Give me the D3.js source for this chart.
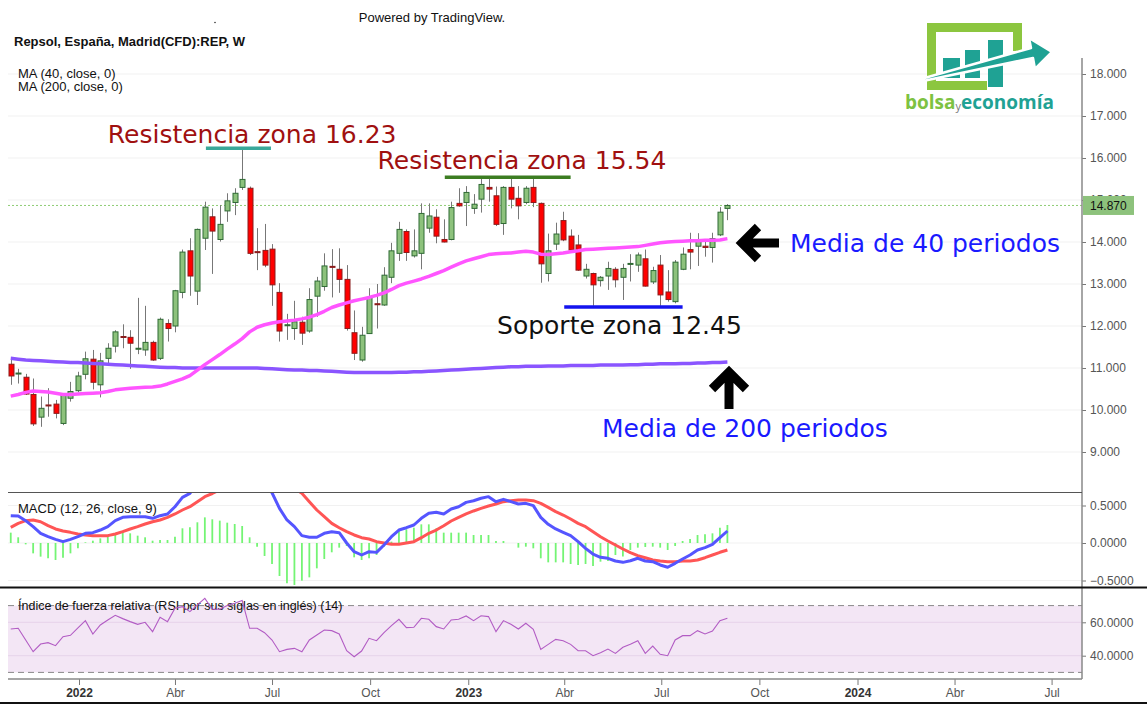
<!DOCTYPE html>
<html>
<head>
<meta charset="utf-8">
<script src="https://cdn.jsdelivr.net/npm/d3@7"></script>
<style>
  html, body { margin: 0; padding: 0; background: #ffffff; }
  svg { display: block; }
</style>
</head>
<body>
<script>
// ---------------- DATA ----------------
const firstWeek = "2021-10-29";
const openP = [11.09,10.86,10.78,10.37,9.83,10.12,10.14,9.68,10.28,10.46,10.85,11.21,10.60,11.23,11.52,11.75,11.73,11.45,11.43,11.61,
  11.23,12.06,12.00,12.80,13.79,12.83,14.09,14.60,14.06,14.74,14.94,15.30,15.28,13.77,13.80,13.83,12.80,12.01,11.94,12.09,
  11.88,12.71,12.94,13.42,13.35,13.11,11.84,11.19,11.82,12.53,12.50,13.16,13.73,14.25,13.67,13.73,14.33,14.59,14.06,14.06,
  14.92,14.94,14.80,15.02,15.30,15.10,14.44,15.30,15.04,14.94,15.30,14.92,13.25,13.95,14.51,14.14,13.93,13.19,13.25,13.08,
  13.19,13.35,13.16,13.47,13.45,13.60,13.05,13.45,12.81,12.58,13.35,13.82,13.90,13.90,13.87,14.17,14.80];
const highP = [11.21,10.98,10.86,10.75,10.32,10.52,10.24,10.40,10.67,10.91,11.39,11.43,11.36,11.59,11.90,12.04,11.90,12.67,12.48,11.65,
  12.20,12.16,12.86,13.82,14.09,14.32,14.96,14.80,14.88,15.16,15.28,16.23,15.32,14.33,14.43,13.95,13.02,12.29,12.60,12.22,
  12.90,13.17,13.73,13.83,13.85,13.45,12.37,11.98,12.90,13.00,13.40,13.98,14.48,14.30,14.30,14.92,14.92,14.78,14.54,14.96,
  15.28,15.33,15.14,15.52,15.54,15.32,15.33,15.54,15.33,15.33,15.54,14.94,14.20,14.46,14.72,14.30,14.17,13.48,13.27,13.19,
  13.53,13.40,13.48,13.71,13.75,13.82,13.41,13.69,13.33,13.57,13.87,14.22,14.21,14.05,14.22,14.83,14.90];
const lowP = [10.60,10.63,10.36,9.62,9.60,9.84,9.80,9.64,10.20,10.42,10.73,10.49,10.30,11.10,11.37,11.47,10.98,11.33,11.29,11.17,
  11.19,11.63,11.85,12.66,12.72,12.50,13.81,13.24,14.01,14.48,14.64,15.24,13.69,13.33,13.40,12.48,11.63,11.67,11.67,11.55,
  11.84,12.22,12.84,12.68,12.79,11.89,11.19,11.15,11.81,11.94,12.48,13.02,13.55,13.55,13.63,13.35,14.22,13.97,13.99,14.04,
  14.84,14.38,14.67,14.70,14.96,14.38,14.17,14.80,14.54,14.90,14.83,13.03,13.06,13.81,14.02,13.75,13.31,13.13,12.48,12.94,
  12.86,12.92,12.62,13.06,13.29,12.94,13.00,12.48,12.58,12.54,13.33,13.35,13.43,13.65,13.51,14.14,14.52];
const closeP = [10.81,10.88,10.38,9.67,10.04,10.10,9.92,10.37,10.44,10.81,11.22,10.66,11.17,11.47,11.86,11.73,11.59,11.47,11.61,11.19,
  12.16,11.94,12.84,13.76,13.19,14.30,14.83,14.26,14.42,14.98,15.16,15.49,13.73,13.75,13.45,12.98,11.88,12.03,12.10,11.83,
  12.63,13.07,13.43,13.40,13.11,11.94,11.35,11.78,12.68,12.51,13.21,13.79,14.30,13.75,13.79,14.68,14.62,14.14,14.00,14.82,
  14.86,15.18,14.90,15.37,15.26,14.42,15.30,15.02,14.86,15.28,14.94,13.48,13.79,14.19,14.05,13.81,13.33,13.35,12.98,13.16,
  13.37,13.10,13.37,13.49,13.69,12.95,13.32,12.74,12.63,13.52,13.71,13.76,14.05,13.87,14.08,14.71,14.87];
const ma40 = [10.33,10.37,10.42,10.45,10.44,10.43,10.40,10.37,10.37,10.38,10.39,10.40,10.41,10.44,10.48,10.50,10.52,10.53,10.54,10.55,
  10.57,10.62,10.68,10.74,10.82,10.95,11.08,11.20,11.32,11.45,11.57,11.70,11.86,11.97,12.03,12.07,12.10,12.12,12.14,12.17,
  12.21,12.27,12.35,12.44,12.50,12.55,12.60,12.64,12.68,12.73,12.79,12.87,12.96,13.02,13.07,13.12,13.18,13.25,13.32,13.40,
  13.48,13.55,13.60,13.65,13.70,13.72,13.73,13.74,13.76,13.78,13.76,13.71,13.70,13.72,13.74,13.77,13.79,13.82,13.83,13.84,
  13.85,13.86,13.87,13.88,13.89,13.92,13.95,13.98,14.00,14.01,14.02,14.03,14.03,14.04,14.04,14.05,14.08];
const ma200 = [11.23,11.21,11.19,11.18,11.17,11.16,11.15,11.14,11.13,11.13,11.12,11.11,11.10,11.09,11.08,11.07,11.06,11.05,11.04,11.03,
  11.02,11.01,11.01,11.00,11.00,11.00,11.00,11.00,11.00,11.00,11.00,11.00,11.00,11.00,10.99,10.98,10.97,10.96,10.95,10.95,
  10.94,10.94,10.93,10.92,10.91,10.90,10.89,10.89,10.89,10.89,10.89,10.89,10.90,10.90,10.91,10.91,10.92,10.93,10.94,10.95,
  10.96,10.97,10.98,10.99,11.00,11.01,11.02,11.03,11.03,11.04,11.04,11.04,11.05,11.05,11.05,11.06,11.06,11.06,11.06,11.07,
  11.07,11.07,11.07,11.08,11.08,11.09,11.09,11.10,11.10,11.10,11.11,11.11,11.12,11.12,11.13,11.13,11.14];
const macdLine = [0.364,0.36,0.298,0.218,0.129,0.084,0.049,0.018,0.049,0.084,0.129,0.138,0.173,0.218,0.298,0.342,0.351,0.351,0.351,0.329,
  0.364,0.387,0.484,0.609,0.662,0.80,0.97,1.08,1.14,1.20,1.24,1.25,1.08,0.93,0.80,0.67,0.462,0.307,0.218,0.098,
  0.076,0.076,0.129,0.151,0.138,0.0,-0.116,-0.16,-0.116,-0.125,-0.027,0.084,0.173,0.204,0.24,0.329,0.396,0.409,0.387,0.453,
  0.484,0.542,0.564,0.596,0.618,0.551,0.582,0.551,0.52,0.529,0.498,0.342,0.249,0.187,0.142,0.098,0.018,-0.071,-0.147,-0.191,
  -0.204,-0.24,-0.258,-0.236,-0.204,-0.24,-0.249,-0.293,-0.324,-0.271,-0.213,-0.16,-0.093,-0.062,-0.018,0.071,0.16];
const signalLine = [0.209,0.262,0.298,0.307,0.284,0.231,0.187,0.16,0.142,0.12,0.107,0.098,0.098,0.098,0.12,0.151,0.187,0.218,0.253,0.284,
  0.307,0.342,0.387,0.44,0.484,0.551,0.618,0.66,0.71,0.78,0.85,0.92,0.97,0.98,0.96,0.92,0.86,0.80,0.73,0.662,
  0.551,0.44,0.351,0.262,0.204,0.151,0.107,0.071,0.053,0.018,0.0,-0.018,-0.018,0.0,0.018,0.071,0.129,0.173,0.231,0.293,
  0.342,0.387,0.427,0.462,0.493,0.52,0.551,0.564,0.573,0.573,0.564,0.529,0.475,0.418,0.373,0.32,0.262,0.218,0.151,0.084,
  0.027,-0.027,-0.08,-0.129,-0.169,-0.196,-0.227,-0.24,-0.249,-0.249,-0.24,-0.24,-0.227,-0.196,-0.16,-0.124,-0.093];
const histo = [0.138,0.076,-0.018,-0.138,-0.182,-0.204,-0.227,-0.196,-0.138,-0.071,0.009,0.031,0.062,0.093,0.116,0.151,0.129,0.098,0.076,0.031,
  0.040,0.040,0.084,0.196,0.209,0.276,0.342,0.316,0.298,0.271,0.253,0.227,0.076,-0.049,-0.173,-0.280,-0.440,-0.538,-0.560,-0.502,
  -0.458,-0.338,-0.213,-0.124,-0.062,-0.040,-0.191,-0.227,-0.204,-0.16,-0.049,0.018,0.16,0.182,0.204,0.249,0.249,0.196,0.138,0.138,
  0.138,0.138,0.107,0.107,0.107,0.027,0.027,0.0,-0.062,-0.049,-0.071,-0.204,-0.258,-0.258,-0.258,-0.280,-0.293,-0.280,-0.307,-0.249,
  -0.24,-0.16,-0.18,-0.093,-0.062,-0.053,-0.049,-0.062,-0.093,-0.04,0.027,0.053,0.107,0.116,0.129,0.204,0.24];
const rsi = [56.0,56.4,49.4,42.4,47.0,47.8,46.0,51.4,52.2,56.6,61.0,53.0,58.4,61.4,64.2,62.2,60.4,58.8,60.0,54.4,
  63.0,60.4,68.4,69.4,66.4,70.4,74.3,67.8,67.8,70.0,71.4,73.0,56.4,56.4,53.8,49.4,42.4,43.8,44.4,42.4,
  49.4,52.4,55.4,55.0,53.0,43.0,39.4,42.8,50.4,49.0,53.8,58.0,61.8,56.8,57.0,62.4,61.8,57.4,56.0,61.4,
  61.8,63.8,61.0,63.9,63.4,54.4,61.0,58.8,56.0,59.4,55.8,43.8,46.8,49.8,49.0,46.8,43.0,43.0,40.0,41.8,
  44.0,41.4,45.0,46.8,49.0,41.4,45.8,40.8,40.0,49.4,52.0,52.0,55.0,53.0,54.8,61.0,62.4];
const lastPrice = 14.87;
const priceTicks = [9,10,11,12,13,14,15,16,17,18];
const macdTicks = [-0.5,0,0.5];
const rsiTicks = [40,60];
const rsiBand = [30,70];
const xTickDates = ["2022-01-01","2022-04-01","2022-07-01","2022-10-01","2023-01-01","2023-04-01","2023-07-01","2023-10-01","2024-01-01","2024-04-01","2024-07-01"];
const xTickLabels = ["2022","Abr","Jul","Oct","2023","Abr","Jul","Oct","2024","Abr","Jul"];
const levels = [
  {value:16.23, from:"2022-04-30", to:"2022-06-30", color:"#3aa89a", label:"Resistencia zona 16.23", lx:"2022-01-28", ly:16.36, lcolor:"#a01010"},
  {value:15.54, from:"2022-12-10", to:"2023-04-07", color:"#3c7d22", label:"Resistencia zona 15.54", lx:"2022-10-08", ly:15.74, lcolor:"#a01010"},
  {value:12.45, from:"2023-04-01", to:"2023-07-21", color:"#1414ee", label:"Soporte zona 12.45", lx:"2023-01-28", ly:11.81, lcolor:"#111111"}
];

// ---------------- SETUP ----------------
const W = 1147, H = 707;
const L = 8, R = 1082;
const parse = d3.utcParse("%Y-%m-%d");
const weeks = d3.range(openP.length).map(i => d3.utcDay.offset(parse(firstWeek), 7 * i));

const x = d3.scaleUtc().domain([parse("2022-01-01"), parse("2024-01-01")]).range([79, 857.5]);
const yP = d3.scaleLinear().domain([9, 18]).range([452, 74]);
const yM = d3.scaleLinear().domain([-0.5, 0.5]).range([580.5, 505.5]);
const yR = d3.scaleLinear().domain([40, 60]).range([655.7, 622.3]);

const svg = d3.select("body").append("svg").attr("width", W).attr("height", H)
  .style("font-family", "'Liberation Sans', Arial, sans-serif");
svg.append("rect").attr("width", W).attr("height", H).attr("fill", "#fff");

const defs = svg.append("defs");
function clip(id, y0, y1) {
  defs.append("clipPath").attr("id", id).append("rect").attr("x", L).attr("y", y0).attr("width", R - L).attr("height", y1 - y0);
}
clip("cMain", 55, 492); clip("cMacd", 493, 587); clip("cRsi", 589, 679);

// ---------------- HEADER ----------------
svg.append("text").attr("x", 432).attr("y", 22).attr("text-anchor", "middle").attr("font-size", 13).attr("fill", "#111").text("Powered by TradingView.");
svg.append("circle").attr("cx", 215).attr("cy", 22.5).attr("r", 0.8).attr("fill", "#333");
svg.append("text").attr("x", 14).attr("y", 46).attr("font-size", 13).attr("font-weight", "bold").attr("fill", "#111").text("Repsol, España, Madrid(CFD):REP, W");

// ---------------- GRID ----------------
const grid = svg.append("g");
grid.selectAll("line.pg").data(priceTicks).join("line")
  .attr("x1", L).attr("x2", R).attr("y1", d => yP(d)).attr("y2", d => yP(d)).attr("stroke", "#f1f1f1");
grid.selectAll("line.mg").data(macdTicks).join("line")
  .attr("x1", L).attr("x2", R).attr("y1", d => yM(d)).attr("y2", d => yM(d)).attr("stroke", "#f1f1f1");

svg.append("text").attr("x", 18).attr("y", 78).attr("font-size", 13).attr("fill", "#111").text("MA (40, close, 0)");
svg.append("text").attr("x", 18).attr("y", 91).attr("font-size", 13).attr("fill", "#111").text("MA (200, close, 0)");

// last price dotted line
svg.append("line").attr("x1", L).attr("x2", R).attr("y1", yP(lastPrice)).attr("y2", yP(lastPrice))
  .attr("stroke", "#8fcc74").attr("stroke-dasharray", "2,2");

// ---------------- CANDLES ----------------
const gMain = svg.append("g").attr("clip-path", "url(#cMain)");
const idx = d3.range(openP.length);
gMain.selectAll("line.wick").data(idx).join("line")
  .attr("x1", i => Math.round(x(weeks[i])) + 0.5).attr("x2", i => Math.round(x(weeks[i])) + 0.5)
  .attr("y1", i => yP(highP[i])).attr("y2", i => yP(lowP[i]))
  .attr("stroke", "#777").attr("stroke-width", 1);
gMain.selectAll("rect.body").data(idx).join("rect")
  .attr("x", i => Math.round(x(weeks[i])) - 2)
  .attr("width", 5)
  .attr("y", i => yP(Math.max(openP[i], closeP[i])))
  .attr("height", i => Math.max(1, Math.abs(yP(openP[i]) - yP(closeP[i]))))
  .attr("fill", i => closeP[i] >= openP[i] ? "#8dc27c" : "#ff0000")
  .attr("stroke", i => closeP[i] >= openP[i] ? "#2f6a35" : "#8a1c1c")
  .attr("stroke-width", 1);

// moving averages
const lineP = arr => d3.line().x((d, i) => x(weeks[i])).y(d => yP(d))(arr);
gMain.append("path").attr("d", lineP(ma200)).attr("fill", "none").attr("stroke", "#8a55ff").attr("stroke-width", 3.5).attr("stroke-linejoin", "round");
gMain.append("path").attr("d", lineP(ma40)).attr("fill", "none").attr("stroke", "#ff55ff").attr("stroke-width", 3.5).attr("stroke-linejoin", "round");

// levels and annotations
const ann = svg.append("g");
levels.forEach(lv => {
  ann.append("line").attr("x1", x(parse(lv.from))).attr("x2", x(parse(lv.to)))
    .attr("y1", yP(lv.value)).attr("y2", yP(lv.value)).attr("stroke", lv.color).attr("stroke-width", 3.5);
  ann.append("text").attr("x", x(parse(lv.lx))).attr("y", yP(lv.ly))
    .attr("font-family", "'DejaVu Sans', sans-serif").attr("font-size", 25).attr("fill", lv.lcolor).text(lv.label);
});
ann.append("text").attr("x", 790).attr("y", 252).attr("font-family", "'DejaVu Sans', sans-serif").attr("font-size", 25).attr("fill", "#1a1aff").text("Media de 40 periodos");
ann.append("text").attr("x", 602).attr("y", 437).attr("font-family", "'DejaVu Sans', sans-serif").attr("font-size", 25).attr("fill", "#1a1aff").text("Media de 200 periodos");
// arrows
ann.append("path").attr("d", "M779,243 L745,243 M758,227 L742,243 L758,259")
  .attr("fill", "none").attr("stroke", "#000").attr("stroke-width", 9).attr("stroke-linejoin", "miter").attr("stroke-miterlimit", 10);
ann.append("path").attr("d", "M729,409 L729,375 M712,389 L729,372 L746,389")
  .attr("fill", "none").attr("stroke", "#000").attr("stroke-width", 9).attr("stroke-linejoin", "miter").attr("stroke-miterlimit", 10);

// ---------------- MACD ----------------
svg.append("text").attr("x", 18).attr("y", 513).attr("font-size", 13).attr("fill", "#111").text("MACD (12, 26, close, 9)");
const gM = svg.append("g").attr("clip-path", "url(#cMacd)");
gM.selectAll("line.h").data(idx).join("line")
  .attr("x1", i => x(weeks[i])).attr("x2", i => x(weeks[i]))
  .attr("y1", yM(0)).attr("y2", i => yM(histo[i]))
  .attr("stroke", "#74f474").attr("stroke-width", 1.8);
const lineM = arr => d3.line().x((d, i) => x(weeks[i])).y(d => yM(d))(arr);
gM.append("path").attr("d", lineM(signalLine)).attr("fill", "none").attr("stroke", "#ff5555").attr("stroke-width", 3).attr("stroke-linejoin", "round");
gM.append("path").attr("d", lineM(macdLine)).attr("fill", "none").attr("stroke", "#5555ff").attr("stroke-width", 3).attr("stroke-linejoin", "round");

// ---------------- RSI ----------------
const gR = svg.append("g");
gR.append("rect").attr("x", L).attr("width", R - L).attr("y", yR(rsiBand[1])).attr("height", yR(rsiBand[0]) - yR(rsiBand[1])).attr("fill", "#f3e6f5");
gR.selectAll("line.rg").data(rsiTicks).join("line")
  .attr("x1", L).attr("x2", R).attr("y1", d => yR(d)).attr("y2", d => yR(d)).attr("stroke", "#e6d3ea");
svg.append("text").attr("x", 18).attr("y", 610).attr("font-size", 12.5).attr("fill", "#111").text("Índice de fuerza relativa (RSI por sus siglas en inglés) (14)");
gR.selectAll("line.rb").data(rsiBand).join("line")
  .attr("x1", L).attr("x2", R).attr("y1", d => yR(d)).attr("y2", d => yR(d))
  .attr("stroke", "#888").attr("stroke-dasharray", "6,4");
svg.append("g").attr("clip-path", "url(#cRsi)").append("path")
  .attr("d", d3.line().x((d, i) => x(weeks[i])).y(d => yR(d))(rsi))
  .attr("fill", "none").attr("stroke", "#b25cc4").attr("stroke-width", 1.1);

// ---------------- AXES ----------------
function styleAxis(g) {
  g.select(".domain").remove();
  g.selectAll(".tick line").attr("stroke", "#777");
  g.selectAll(".tick text").attr("fill", "#555").attr("font-size", 12).attr("font-family", "'Liberation Sans', Arial, sans-serif");
}
svg.append("g").attr("transform", `translate(${R},0)`)
  .call(d3.axisRight(yP).tickValues(priceTicks).tickFormat(d3.format(".3f")).tickSize(4).tickPadding(4)).call(styleAxis);
svg.append("g").attr("transform", `translate(${R},0)`)
  .call(d3.axisRight(yM).tickValues(macdTicks).tickFormat(d3.format(".4f")).tickSize(4).tickPadding(4)).call(styleAxis);
svg.append("g").attr("transform", `translate(${R},0)`)
  .call(d3.axisRight(yR).tickValues(rsiTicks).tickFormat(d3.format(".4f")).tickSize(4).tickPadding(4)).call(styleAxis);

const xa = svg.append("g").attr("transform", "translate(0,679)")
  .call(d3.axisBottom(x).tickValues(xTickDates.map(parse)).tickFormat((d, i) => xTickLabels[i]).tickSize(6).tickPadding(3))
  .call(styleAxis);
xa.selectAll(".tick text").filter((d, i) => /^\d+$/.test(xTickLabels[i]))
  .attr("font-weight", "bold").attr("fill", "#333");

// axis lines & separators
svg.append("line").attr("x1", R).attr("x2", R).attr("y1", 58).attr("y2", 679).attr("stroke", "#888").attr("stroke-width", 1.5);
svg.append("line").attr("x1", L).attr("x2", R).attr("y1", 679).attr("y2", 679).attr("stroke", "#888").attr("stroke-width", 1.5);
svg.append("line").attr("x1", L).attr("x2", R).attr("y1", 492.5).attr("y2", 492.5).attr("stroke", "#555").attr("stroke-width", 1.2);
svg.append("line").attr("x1", 0).attr("x2", W).attr("y1", 587.5).attr("y2", 587.5).attr("stroke", "#111").attr("stroke-width", 2);
svg.append("line").attr("x1", 0).attr("x2", W).attr("y1", 703).attr("y2", 703).attr("stroke", "#111").attr("stroke-width", 2);

// last price box
svg.append("rect").attr("x", R + 1).attr("y", yP(lastPrice) - 9.5).attr("width", 51).attr("height", 19).attr("fill", "#8dc27c");
svg.append("text").attr("x", R + 8).attr("y", yP(lastPrice) + 4.5).attr("font-size", 12).attr("fill", "#111").text(d3.format(".3f")(lastPrice));

// ---------------- LOGO ----------------
const logo = svg.append("g");
const lg = "#8cc63f", teal = "#1fa294";
logo.append("rect").attr("x", 927).attr("y", 23).attr("width", 95).attr("height", 9).attr("fill", lg);
logo.append("rect").attr("x", 927).attr("y", 23).attr("width", 9).attr("height", 67).attr("fill", lg);
logo.append("rect").attr("x", 927).attr("y", 81).attr("width", 60).attr("height", 9).attr("fill", lg);
logo.append("rect").attr("x", 1013).attr("y", 23).attr("width", 9).attr("height", 28).attr("fill", lg);
logo.append("rect").attr("x", 943).attr("y", 58).attr("width", 17).attr("height", 20).attr("fill", teal);
logo.append("rect").attr("x", 965).attr("y", 50).attr("width", 15).attr("height", 28).attr("fill", teal);
logo.append("rect").attr("x", 988).attr("y", 40).attr("width", 15).attr("height", 47).attr("fill", teal);
logo.append("path").attr("d", "M921,79 L1031,48 L1029,38 L1052,52 L1035,69 L1033,58 L923,81 Z")
  .attr("fill", teal).attr("stroke", "#fff").attr("stroke-width", 2.5).attr("stroke-linejoin", "round");
const lt = logo.append("text").attr("x", 905).attr("y", 109).attr("font-family", "'Open Sans', sans-serif").attr("font-weight", 700).attr("font-size", 19);
lt.append("tspan").attr("fill", "#7dc242").text("bolsa");
lt.append("tspan").attr("fill", "#777").attr("font-size", 11).attr("font-weight", 400).attr("dy", 1).text("y");
lt.append("tspan").attr("fill", teal).attr("dy", -1).text("economía");
</script>
</body>
</html>
